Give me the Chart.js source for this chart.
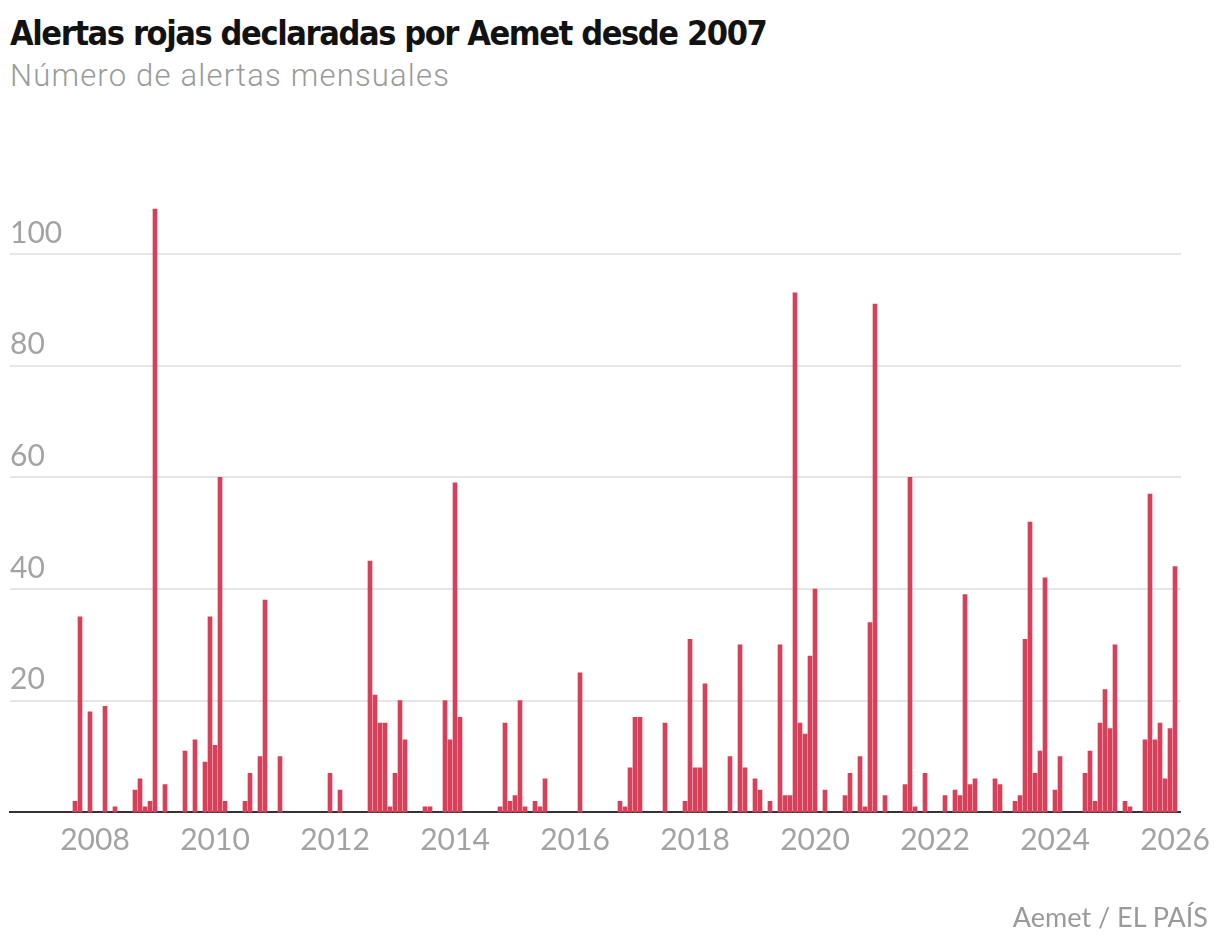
<!DOCTYPE html>
<html>
<head>
<meta charset="utf-8">
<script src="https://cdn.jsdelivr.net/npm/chart.js@4.4.1/dist/chart.umd.min.js"></script>
<style>
  html, body { margin: 0; padding: 0; background: #ffffff; width: 1220px; height: 948px; overflow: hidden; }
  #title { position: absolute; left: 10px; top: 16px; font-family: "Liberation Sans Narrow", "DejaVu Sans Condensed", sans-serif; font-weight: bold; font-size: 34px; letter-spacing: -1.4px; line-height: 1; color: #121212; white-space: nowrap; }
  #subtitle { position: absolute; left: 10px; top: 60px; font-family: Roboto, sans-serif; font-weight: 300; font-size: 31px; letter-spacing: 1.2px; line-height: 1; color: #9a9a9a; white-space: nowrap; }
  #source { position: absolute; right: 12px; top: 903px; font-family: Lato, sans-serif; font-size: 27px; line-height: 1; color: #9a9a9a; white-space: nowrap; }
  #chart { position: absolute; left: 0; top: 0; }
</style>
</head>
<body>
<div id="title">Alertas rojas declaradas por Aemet desde 2007</div>
<div id="subtitle">Número de alertas mensuales</div>
<canvas id="chart" width="1220" height="948"></canvas>
<div id="source">Aemet / EL PAÍS</div>
<script>
// Months with at least one red alert (all other months: 0)
const months = [
  "2007-09","2007-10","2007-12",
  "2008-03","2008-05","2008-09","2008-10","2008-11","2008-12",
  "2009-01","2009-03","2009-07","2009-09","2009-11","2009-12",
  "2010-01","2010-02","2010-03","2010-07","2010-08","2010-10","2010-11",
  "2011-02","2011-12",
  "2012-02","2012-08","2012-09","2012-10","2012-11","2012-12",
  "2013-01","2013-02","2013-03","2013-07","2013-08","2013-11","2013-12",
  "2014-01","2014-02","2014-10","2014-11","2014-12",
  "2015-01","2015-02","2015-03","2015-05","2015-06","2015-07",
  "2016-02","2016-10","2016-11","2016-12",
  "2017-01","2017-02","2017-07","2017-11","2017-12",
  "2018-01","2018-02","2018-03","2018-08","2018-10","2018-11",
  "2019-01","2019-02","2019-04","2019-06","2019-07","2019-08","2019-09","2019-10","2019-11","2019-12",
  "2020-01","2020-03","2020-07","2020-08","2020-10","2020-11","2020-12",
  "2021-01","2021-03","2021-07","2021-08","2021-09","2021-11",
  "2022-03","2022-05","2022-06","2022-07","2022-08","2022-09",
  "2023-01","2023-02","2023-05","2023-06","2023-07","2023-08","2023-09","2023-10","2023-11",
  "2024-01","2024-02","2024-07","2024-08","2024-09","2024-10","2024-11","2024-12",
  "2025-01","2025-03","2025-04","2025-07","2025-08","2025-09","2025-10","2025-11","2025-12",
  "2026-01"
];
const alerts = [
  2,35,18,
  19,1,4,6,1,2,
  108,5,11,13,9,35,
  12,60,2,2,7,10,38,
  10,7,
  4,45,21,16,16,1,
  7,20,13,1,1,20,13,
  59,17,1,16,2,
  3,20,1,2,1,6,
  25,2,1,8,
  17,17,16,2,31,
  8,8,23,10,30,8,
  6,4,2,30,3,3,93,16,14,28,
  40,4,3,7,10,1,34,
  91,3,5,60,1,7,
  3,4,3,39,5,6,
  6,5,2,3,31,52,7,11,42,
  4,10,7,11,2,16,22,15,
  30,2,1,13,57,13,16,6,15,
  44
];
const yearTicks = ["2008","2010","2012","2014","2016","2018","2020","2022","2024","2026"];
const yTicks = [20, 40, 60, 80, 100];

const BASE_YEAR = 2008;
function monthIndex(s) {
  const [y, m] = s.split("-").map(Number);
  return (y - BASE_YEAR) * 12 + (m - 1);
}
const points = months.map((m, i) => ({ x: monthIndex(m), y: alerts[i] }));
const yearValues = yearTicks.map(y => (Number(y) - BASE_YEAR) * 12);

const tickFont = { family: "Lato", size: 30, weight: "normal" };
const tickColor = "#a3a3a3";

new Chart(document.getElementById("chart"), {
  type: "bar",
  data: {
    datasets: [{
      data: points,
      backgroundColor: "#d8405a",
      borderWidth: 0,
      barThickness: 4
    }]
  },
  options: {
    responsive: false,
    animation: false,
    devicePixelRatio: 1,
    layout: { padding: { left: 10, right: 39, top: 198, bottom: 75.6 } },
    plugins: { legend: { display: false }, tooltip: { enabled: false }, title: { display: false } },
    scales: {
      x: {
        type: "linear",
        min: -17,
        max: 217.2,
        offset: false,
        grid: { display: false, drawTicks: false },
        border: { display: true, color: "#333333", width: 2 },
        afterBuildTicks: (scale) => { scale.ticks = yearValues.map(v => ({ value: v })); },
        afterFit: (scale) => { scale.height = 60; },
        ticks: {
          autoSkip: false,
          maxRotation: 0,
          padding: 10,
          color: tickColor,
          font: tickFont,
          callback: (v) => yearTicks[yearValues.indexOf(v)]
        }
      },
      y: {
        min: 0,
        max: 110,
        grid: { color: "#e6e6e6", lineWidth: 2, drawTicks: false },
        border: { display: false },
        afterBuildTicks: (scale) => { scale.ticks = yTicks.map(v => ({ value: v })); },
        afterFit: (scale) => { scale.width = 0; },
        ticks: {
          mirror: true,
          padding: 0,
          labelOffset: -21,
          color: tickColor,
          font: tickFont,
          callback: (v) => String(v)
        }
      }
    }
  }
});
</script>
</body>
</html>
